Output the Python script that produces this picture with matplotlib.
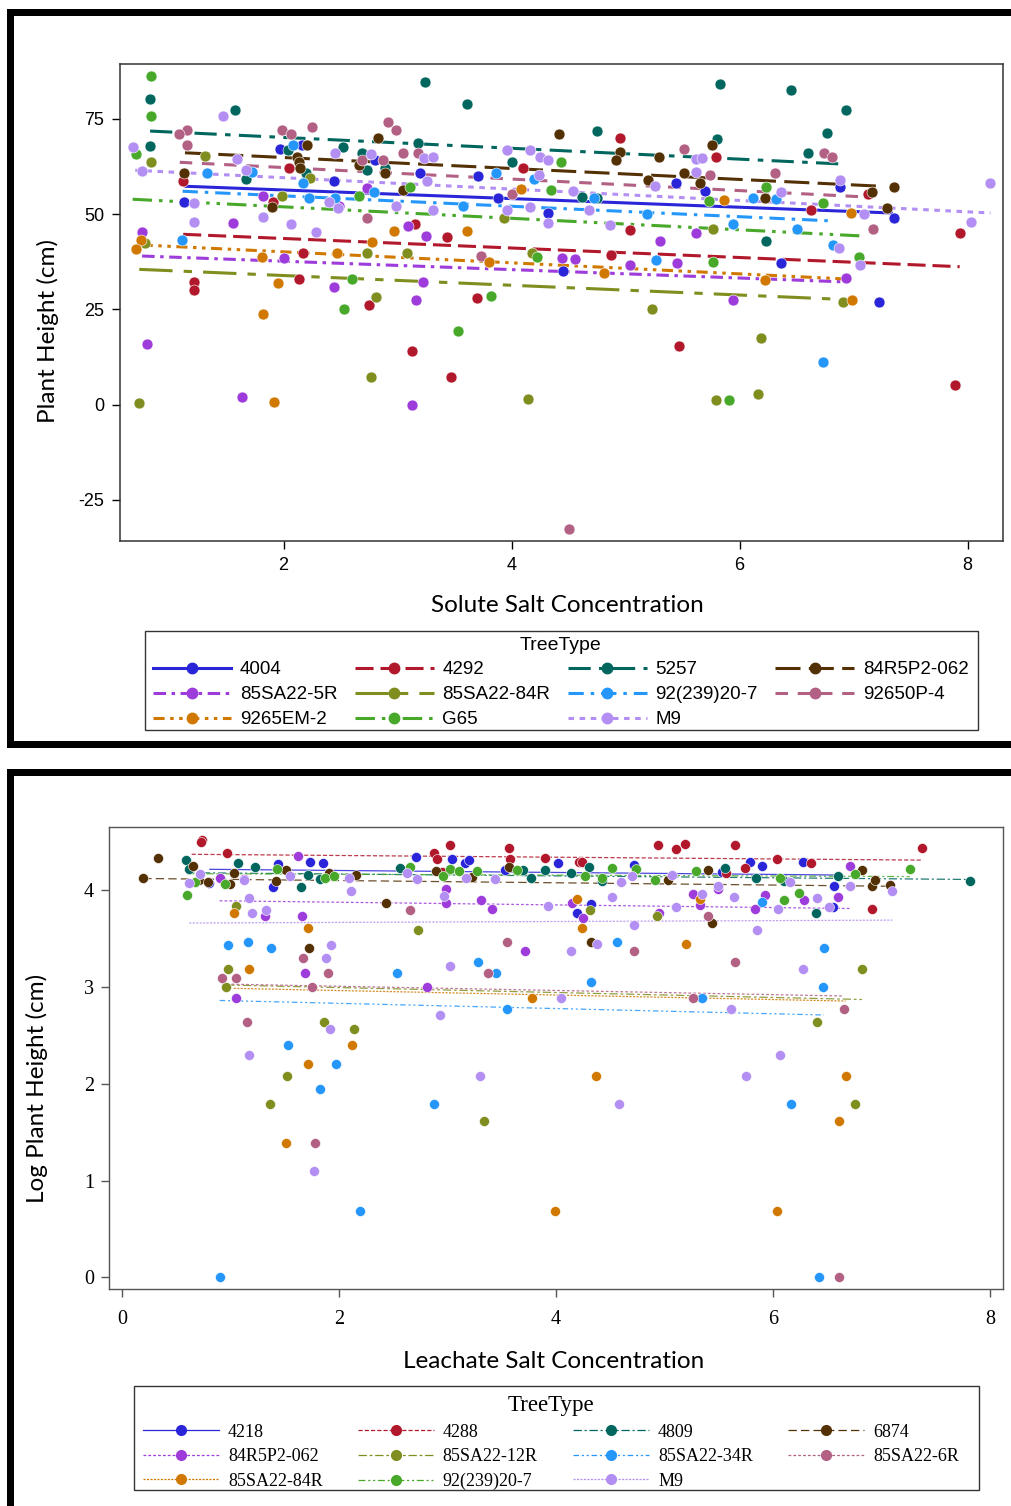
import numpy as np
import matplotlib
matplotlib.use('Agg')
from matplotlib import pyplot as plt
from matplotlib.lines import Line2D
from matplotlib.patches import Rectangle

plt.rcParams['lines.scale_dashes'] = False
plt.rcParams['axes.unicode_minus'] = False

#%% colours shared by both panels (group order)
colors = ['#2A25D9', '#B2182B', '#01665E', '#543005', '#9D3CDB', '#7F8E1F',
          '#2597FA', '#B26084', '#D17800', '#47A82A', '#B38EF3']

#%% solute panel data
solute_names = ['4004', '4292', '5257', '84R5P2-062', '85SA22-5R', '85SA22-84R',
                '92(239)20-7', '92650P-4', '9265EM-2', 'G65', 'M9']

s_4004_x = [1.13, 1.97, 2.16, 2.44, 2.8, 3.2, 3.71, 3.88, 4.32, 5.44, 5.70, 6.88, 7.35, 4.45, 6.36, 7.22]
s_4004_y = [53.2, 67.0, 68.1, 58.7, 64.2, 60.8, 60.0, 54.1, 50.2, 58.1, 56.0, 57.0, 49.1, 35.1, 37.1, 27.0]

s_4292_x = [1.115, 1.905, 2.05, 2.17, 1.215, 1.215, 2.14, 2.747, 3.15, 3.43, 3.70, 3.125, 3.47, 4.1,
            4.95, 5.79, 5.04, 4.87, 5.47, 6.63, 7.13, 7.93, 7.89]
s_4292_y = [58.7, 53.2, 62.2, 39.9, 32.2, 30.0, 32.9, 26.1, 47.3, 44.0, 28.1, 14.1, 7.2, 62.0,
            70.1, 64.9, 45.8, 39.2, 15.4, 51.2, 55.2, 45.1, 5.1]

s_5257_x = [0.83, 0.83, 1.575, 3.24, 3.61, 1.67, 2.04, 2.2, 2.52, 2.69, 2.73, 2.89, 3.18, 4.0,
            4.75, 5.80, 5.83, 6.45, 6.93, 6.77, 6.6, 4.62, 4.75, 6.23]
s_5257_y = [80.1, 68.0, 77.3, 84.6, 79.0, 59.3, 66.8, 60.7, 67.7, 66.1, 61.5, 62.0, 68.7, 63.7,
            71.8, 69.7, 84.1, 82.5, 77.3, 71.3, 66.1, 54.6, 54.1, 43.0]

s_84R5P2_x = [1.127, 1.896, 2.12, 2.14, 2.145, 2.21, 2.66, 2.83, 2.89, 3.05, 4.42, 4.95, 4.92,
              5.29, 5.76, 5.51, 5.2, 5.65, 6.22, 7.16, 7.35, 7.29]
s_84R5P2_y = [60.8, 51.9, 65.0, 63.7, 62.0, 68.1, 62.9, 70.1, 60.7, 56.3, 71.0, 66.4, 64.2,
              64.9, 68.1, 60.9, 58.9, 58.1, 54.1, 55.9, 57.2, 51.5]

s_5R_x = [0.756, 0.80, 1.56, 1.82, 2.0, 2.445, 2.73, 3.095, 3.25, 3.22, 3.16, 1.633, 3.125,
          4.44, 4.56, 5.04, 5.45, 5.30, 5.62, 5.94, 6.93, 2.49]
s_5R_y = [45.4, 15.8, 47.6, 54.7, 38.6, 30.9, 56.8, 46.9, 44.3, 32.2, 27.4, 2.0, 0.0,
          38.6, 38.2, 36.6, 37.2, 43.0, 45.1, 27.4, 33.1, 52.0]

s_84R_x = [0.84, 1.31, 0.785, 1.987, 2.23, 2.735, 3.08, 4.18, 2.81, 2.77, 0.733, 4.14, 3.93,
           5.77, 5.23, 6.19, 6.91, 5.79, 6.16]
s_84R_y = [63.6, 65.2, 42.3, 54.7, 59.4, 39.7, 39.9, 39.7, 28.3, 7.2, 0.3, 1.6, 49.1,
           46.0, 25.0, 17.4, 27.0, 1.2, 2.8]

s_92239_x = [1.326, 1.72, 1.107, 2.086, 2.17, 2.22, 2.45, 2.79, 3.57, 3.86, 4.2, 4.72, 5.19,
             5.27, 5.94, 6.12, 6.32, 6.50, 6.82, 6.73]
s_92239_y = [60.8, 61.0, 43.2, 68.1, 58.1, 54.1, 54.1, 55.9, 52.1, 60.8, 59.1, 54.1, 50.0,
             37.9, 47.3, 54.1, 53.9, 46.0, 41.9, 11.2]

s_92650_x = [2.92, 2.99, 2.25, 1.987, 2.07, 1.156, 1.086, 1.15, 2.69, 2.875, 3.05, 3.18, 2.73,
             3.73, 4.0, 5.51, 5.74, 6.31, 6.74, 6.81, 7.17, 4.50]
s_92650_y = [74.1, 72.0, 72.9, 72.2, 71.0, 72.2, 71.0, 68.2, 64.2, 64.2, 66.1, 66.1, 49.1,
             39.1, 55.2, 67.0, 60.2, 60.8, 66.1, 64.9, 46.0, -32.7]

s_9265EM_x = [0.748, 0.704, 1.81, 2.47, 2.78, 2.97, 3.61, 3.8, 1.95, 1.82, 1.92, 4.08, 4.81,
              5.86, 6.22, 6.98, 6.99]
s_9265EM_y = [43.2, 40.8, 38.8, 39.7, 42.7, 45.5, 45.5, 37.5, 31.8, 23.8, 0.7, 56.7, 34.6,
              53.7, 32.7, 50.3, 27.4]

s_G65_x = [0.838, 0.84, 0.71, 2.66, 3.11, 4.22, 2.6, 2.53, 3.82, 3.53, 4.35, 4.43, 5.73,
           5.77, 6.23, 6.73, 7.05, 5.91]
s_G65_y = [86.3, 75.7, 65.9, 54.7, 57.0, 38.8, 32.9, 25.0, 28.6, 19.3, 56.3, 63.7, 53.4,
           37.5, 57.2, 52.8, 38.8, 1.2]

s_M9_x = [1.47, 0.68, 1.59, 0.756, 1.67, 1.215, 1.215, 1.82, 2.07, 2.285, 2.45, 2.4, 2.48,
          2.77, 3.23, 3.31, 3.26, 2.99, 3.31, 3.96, 3.96, 4.16, 4.16, 4.25, 4.32, 4.24, 4.32,
          4.54, 4.68, 4.86, 5.62, 5.67, 5.62, 5.26, 6.36, 6.88, 6.87, 7.09, 7.06, 8.2, 8.03]
s_M9_y = [75.7, 67.7, 64.4, 61.2, 61.5, 52.8, 48.0, 49.3, 47.3, 45.2, 66.1, 53.2, 51.5,
          65.7, 64.6, 64.9, 58.7, 52.1, 51.2, 66.8, 51.2, 51.9, 66.8, 65.0, 64.2, 60.2, 47.6,
          56.1, 51.0, 47.1, 64.4, 64.6, 61.1, 57.3, 55.7, 58.9, 41.0, 50.0, 36.6, 58.1, 48.0]

# regression line end points per group
solute_fit_x0 = [1.145, 1.12, 0.83, 1.136, 0.76, 0.735, 1.115, 1.09, 0.756, 0.677, 0.70]
solute_fit_x1 = [7.33, 7.93, 6.93, 7.25, 6.93, 6.91, 6.82, 7.17, 6.98, 7.05, 8.2]
solute_fit_y0 = [57.3, 44.7, 71.8, 66.1, 39.0, 35.5, 56.0, 63.6, 41.9, 53.9, 61.5]
solute_fit_y1 = [50.3, 36.2, 63.1, 57.3, 32.2, 27.6, 48.2, 54.4, 32.9, 44.3, 50.3]

#%% leachate panel data
leach_names = ['4218', '4288', '4809', '6874', '84R5P2-062', '85SA22-12R',
               '85SA22-34R', '85SA22-6R', '85SA22-84R', '92(239)20-7', 'M9']

l_4218_x = [0.80, 1.44, 1.39, 1.73, 1.85, 2.71, 3.04, 3.16, 3.20, 3.53, 4.02, 4.32, 4.19,
            4.72, 5.53, 5.79, 5.90, 6.28, 6.56, 6.55]
l_4218_y = [4.076, 4.27, 4.03, 4.29, 4.28, 4.345, 4.32, 4.28, 4.31, 4.21, 4.28, 3.855, 3.76,
            4.26, 4.19, 4.29, 4.25, 4.29, 4.04, 3.83]

l_4288_x = [0.74, 0.725, 0.97, 2.88, 2.90, 3.02, 2.95, 3.57, 3.58, 3.90, 4.21, 4.24, 4.94,
            5.11, 5.19, 5.65, 5.57, 5.74, 6.04, 6.35, 7.37, 6.91]
l_4288_y = [4.52, 4.50, 4.386, 4.386, 4.32, 4.47, 4.19, 4.43, 4.32, 4.335, 4.29, 4.29, 4.47,
            4.42, 4.48, 4.47, 4.18, 4.225, 4.32, 4.28, 4.43, 3.81]

l_4809_x = [0.59, 0.62, 1.07, 1.23, 1.71, 1.65, 1.825, 2.56, 3.70, 3.77, 3.90, 4.30, 4.14,
            4.42, 5.56, 5.84, 6.10, 6.60, 6.40, 7.82]
l_4809_y = [4.31, 4.215, 4.28, 4.235, 4.16, 4.03, 4.11, 4.225, 4.21, 4.13, 4.21, 4.24, 4.18,
            4.09, 4.225, 4.13, 4.09, 4.146, 3.76, 4.094]

l_6874_x = [0.33, 0.196, 0.65, 0.71, 0.79, 0.995, 1.03, 1.51, 1.42, 1.91, 1.72, 2.16, 2.43,
            2.89, 3.23, 3.57, 4.32, 5.035, 5.40, 5.44, 6.82, 6.91, 6.94, 7.08]
l_6874_y = [4.335, 4.13, 4.25, 4.10, 4.087, 4.06, 4.18, 4.21, 4.094, 4.18, 3.405, 4.16, 3.87,
            4.20, 4.14, 4.24, 3.467, 4.10, 4.21, 3.66, 4.21, 4.04, 4.10, 4.05]

l_84R5P2_x = [0.90, 1.12, 1.32, 1.625, 1.66, 1.69, 1.05, 2.99, 2.99, 2.81, 3.31, 3.41, 3.71,
              4.145, 4.25, 4.95, 5.26, 5.33, 5.49, 5.83, 5.93, 6.29, 6.60, 6.71]
l_84R5P2_y = [4.13, 4.12, 3.735, 4.35, 3.735, 3.14, 2.89, 4.01, 3.87, 3.00, 3.895, 3.81, 3.37,
              3.87, 3.715, 3.76, 3.956, 3.85, 4.01, 3.81, 3.95, 3.895, 3.93, 4.25]

l_12R_x = [1.05, 0.98, 0.96, 1.86, 2.14, 1.52, 1.364, 2.73, 3.34, 4.31, 4.93, 6.41, 6.82, 6.76]
l_12R_y = [3.835, 3.18, 2.996, 2.64, 2.565, 2.08, 1.79, 3.59, 1.61, 3.79, 3.735, 2.64, 3.18, 1.79]

l_34R_x = [0.98, 1.165, 1.37, 1.53, 1.97, 1.825, 2.19, 0.90, 2.53, 2.88, 3.28, 3.45, 3.55,
           4.56, 4.32, 5.35, 5.90, 6.47, 6.46, 6.17, 6.42]
l_34R_y = [3.43, 3.467, 3.405, 2.40, 2.20, 1.945, 0.69, 0.0, 3.14, 1.79, 3.26, 3.14, 2.775,
           3.467, 3.05, 2.89, 3.875, 3.405, 3.00, 1.79, 0.0]

l_6R_x = [0.92, 1.05, 1.15, 1.67, 1.90, 1.75, 1.78, 2.65, 3.37, 3.55, 4.72, 5.40, 5.65,
          5.26, 6.65, 6.61]
l_6R_y = [3.095, 3.095, 2.64, 3.30, 3.14, 2.996, 1.387, 3.79, 3.14, 3.467, 3.37, 3.735, 3.26,
          2.89, 2.775, 0.0]

l_84R_x = [1.03, 1.17, 1.71, 2.12, 1.71, 1.51, 3.78, 3.99, 4.19, 4.24, 5.33, 5.20, 4.37,
           6.67, 6.61, 6.04]
l_84R_y = [3.76, 3.18, 3.61, 2.40, 2.20, 1.387, 2.89, 0.69, 3.91, 3.61, 3.91, 3.44, 2.08,
           2.08, 1.61, 0.69]

l_92239_x = [0.673, 0.60, 0.95, 1.43, 1.87, 1.95, 2.65, 3.02, 2.96, 3.11, 3.27, 3.64, 4.27,
             4.42, 4.52, 4.74, 4.91, 5.29, 6.06, 6.24, 6.10, 6.76, 7.26]
l_92239_y = [4.087, 3.95, 4.06, 4.215, 4.13, 4.146, 4.24, 4.215, 4.146, 4.20, 4.20, 4.21, 4.146,
             4.13, 4.225, 4.215, 4.10, 4.20, 4.13, 3.97, 3.895, 4.17, 4.215]

l_M9_x = [0.72, 0.62, 1.12, 1.17, 1.20, 1.33, 1.55, 1.93, 1.88, 1.17, 1.92, 1.77, 2.11, 2.095,
          2.63, 2.72, 2.97, 3.02, 2.93, 3.30, 3.17, 3.44, 3.93, 4.05, 4.14, 4.38, 4.60, 4.70,
          4.52, 4.72, 5.07, 5.11, 5.35, 5.49, 5.64, 5.85, 5.61, 6.05, 6.16, 6.41, 6.52, 6.28,
          6.06, 6.71, 7.10, 4.58, 5.75]
l_M9_y = [4.17, 4.076, 4.10, 3.915, 3.76, 3.79, 4.146, 3.43, 3.295, 2.30, 2.565, 1.10, 3.99, 4.13,
          4.18, 4.11, 3.94, 3.22, 2.71, 2.08, 4.13, 4.11, 3.835, 2.89, 3.37, 3.44, 4.08, 4.146,
          3.93, 3.64, 4.156, 3.83, 3.956, 4.045, 3.93, 3.59, 2.775, 3.81, 4.08, 3.915, 3.83, 3.18,
          2.30, 4.04, 3.99, 1.79, 2.08]

leach_fit_x0 = [0.81, 0.642, 0.59, 0.196, 0.90, 0.96, 0.90, 0.92, 1.03, 0.60, 0.62]
leach_fit_x1 = [6.60, 7.37, 7.82, 7.08, 6.71, 6.82, 6.47, 6.65, 6.67, 7.26, 7.10]
leach_fit_y0 = [4.215, 4.37, 4.18, 4.12, 3.89, 3.02, 2.86, 3.03, 2.985, 4.17, 3.66]
leach_fit_y1 = [4.156, 4.31, 4.11, 4.04, 3.81, 2.87, 2.71, 2.906, 2.854, 4.14, 3.69]

#%% line styles (points, not scaled by width)
solute_dash = ['-', (0, (13, 5)), (0, (16, 6, 4, 6)), (0, (18, 6)), (0, (9, 4, 2.5, 4)),
               (0, (24, 8, 6, 8)), (0, (11, 5, 2.5, 5)), (0, (9, 7)),
               (0, (8, 4, 2.5, 4, 2.5, 4)), (0, (14, 5, 2.5, 5, 2.5, 5)), (0, (4, 4))]
leach_dash = ['-', (0, (3, 1.5)), (0, (6, 2, 1.5, 2)), (0, (6, 3)), (0, (2, 1.5)),
              (0, (6, 2, 2, 2)), (0, (4, 2, 1.5, 2, 1.5, 2)), (0, (2, 1.5)), (0, (1.5, 1)),
              (0, (5, 2, 1.5, 2, 1.5, 2)), (0, (1.5, 1))]

solute_x = [s_4004_x, s_4292_x, s_5257_x, s_84R5P2_x, s_5R_x, s_84R_x, s_92239_x, s_92650_x,
            s_9265EM_x, s_G65_x, s_M9_x]
solute_y = [s_4004_y, s_4292_y, s_5257_y, s_84R5P2_y, s_5R_y, s_84R_y, s_92239_y, s_92650_y,
            s_9265EM_y, s_G65_y, s_M9_y]
leach_x = [l_4218_x, l_4288_x, l_4809_x, l_6874_x, l_84R5P2_x, l_12R_x, l_34R_x, l_6R_x,
           l_84R_x, l_92239_x, l_M9_x]
leach_y = [l_4218_y, l_4288_y, l_4809_y, l_6874_y, l_84R5P2_y, l_12R_y, l_34R_y, l_6R_y,
           l_84R_y, l_92239_y, l_M9_y]

#%% figure set up (pixel based layout)
W, H = 1011, 1506
fig = plt.figure(figsize=(W/100, H/100), dpi=100)

def box(x0, y0, x1, y1):
    return [x0/W, 1-y1/H, (x1-x0)/W, (y1-y0)/H]

def rect(x0, y0, x1, y1, **kw):
    fig.add_artist(Rectangle((x0/W, 1-y1/H), (x1-x0)/W, (y1-y0)/H,
                             transform=fig.transFigure, **kw))

sans_narrow = ['Liberation Sans Narrow', 'Liberation Sans', 'DejaVu Sans']
serif = ['Liberation Serif', 'DejaVu Serif']
label_font = ['Lato', 'DejaVu Sans']

# black panel frames
for x0, y0, x1, y1 in [(7, 9, 14, 748), (7, 9, W, 16), (7, 741, W, 748),
                       (7, 769, 14, H), (7, 769, W, 776)]:
    rect(x0, y0, x1, y1, color='black', lw=0)

# legend boxes
rect(145, 631, 978, 730, facecolor='none', edgecolor='#333333', lw=1.0)
rect(134, 1386, 979, 1490, facecolor='none', edgecolor='#333333', lw=1.0)

ax1 = fig.add_axes(box(120, 64, 1003, 541))
ax2 = fig.add_axes(box(109.3, 827.3, 1002.7, 1289.3))

#%% solute panel
for i in range(len(solute_names)):
    ax1.plot([solute_fit_x0[i], solute_fit_x1[i]], [solute_fit_y0[i], solute_fit_y1[i]],
             color=colors[i], lw=2.2, linestyle=solute_dash[i], zorder=2)
for i in range(len(solute_names)):
    ax1.scatter(solute_x[i], solute_y[i], s=62, color=colors[i], edgecolors='white',
                linewidths=0.4, zorder=3)

ax1.set_xlim(0.566, 8.31)
ax1.set_ylim(-35.8, 89.4)
ax1.set_xticks([2, 4, 6, 8])
ax1.set_yticks([-25, 0, 25, 50, 75])
ax1.tick_params(direction='out', length=5.5, width=1, labelsize=13, pad=6)
for lab in ax1.get_xticklabels() + ax1.get_yticklabels():
    lab.set_family(sans_narrow)
for sp in ax1.spines.values():
    sp.set_color('#333333')
    sp.set_linewidth(1.1)

fig.text(48/W, 1-331/H, 'Plant Height (cm)', rotation=90, ha='center', va='center',
         fontsize=17.5, family=label_font)
fig.text(567/W, 1-606/H, 'Solute Salt Concentration', ha='center', va='center',
         fontsize=17.5, family=label_font)

# legend, filled row by row
order = [0, 4, 8, 1, 5, 9, 2, 6, 10, 3, 7]
h1 = [Line2D([], [], color=colors[i], lw=2.2, linestyle=solute_dash[i], marker='o',
             markersize=7.5) for i in range(len(solute_names))]
leg1 = fig.legend([h1[i] for i in order], [solute_names[i] for i in order],
                  loc='upper left', bbox_to_anchor=box(147, 631, 974, 730), mode='expand',
                  ncol=4, numpoints=1, title='TreeType', frameon=False,
                  borderaxespad=0, borderpad=0.3, handlelength=4.2,
                  handletextpad=0.45, labelspacing=0.41, columnspacing=1.0,
                  prop={'family': sans_narrow, 'size': 13.5},
                  title_fontproperties={'family': sans_narrow, 'size': 14})

#%% leachate panel
for i in range(len(leach_names)):
    ax2.plot([leach_fit_x0[i], leach_fit_x1[i]], [leach_fit_y0[i], leach_fit_y1[i]],
             color=colors[i], lw=0.9, alpha=0.85, linestyle=leach_dash[i], zorder=2)
for i in range(len(leach_names)):
    ax2.scatter(leach_x[i], leach_y[i], s=52, color=colors[i], edgecolors='white',
                linewidths=0.4, zorder=3)

ax2.set_xlim(-0.117, 8.117)
ax2.set_ylim(-0.124, 4.649)
ax2.set_xticks([0, 2, 4, 6, 8])
ax2.set_yticks([0, 1, 2, 3, 4])
ax2.tick_params(direction='out', length=6, width=1, labelsize=14.5, pad=5, color='#555555')
ax2.tick_params(axis='x', pad=9)
for lab in ax2.get_xticklabels() + ax2.get_yticklabels():
    lab.set_family(serif)
for sp in ax2.spines.values():
    sp.set_color('#555555')
    sp.set_linewidth(1.0)

fig.text(37/W, 1-1088/H, 'Log Plant Height (cm)', rotation=90, ha='center', va='center',
         fontsize=17.5, family=label_font)
fig.text(554/W, 1-1361/H, 'Leachate Salt Concentration', ha='center', va='center',
         fontsize=17.5, family=label_font)

h2 = [Line2D([], [], color=colors[i], lw=0.9, linestyle=leach_dash[i], marker='o',
             markersize=7) for i in range(len(leach_names))]
leg2 = fig.legend([h2[i] for i in order], [leach_names[i] for i in order],
                  loc='upper left', bbox_to_anchor=box(134, 1386, 968, 1490), mode='expand',
                  ncol=4, numpoints=1, title='TreeType', frameon=False,
                  borderaxespad=0, borderpad=0.5, handlelength=4.2,
                  handletextpad=0.5, labelspacing=0.42, columnspacing=1.0,
                  prop={'family': serif, 'size': 13},
                  title_fontproperties={'family': serif, 'size': 16.5})

plt.savefig('out.png', dpi=100)
